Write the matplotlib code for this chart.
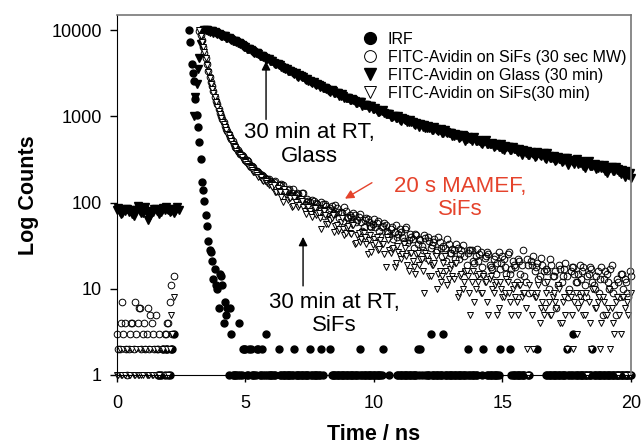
import numpy as np
import matplotlib.pyplot as plt

plt.rcParams['font.family'] = ['Liberation Sans', 'DejaVu Sans']

# photon counts per 0.05 ns channel (one row = 0.5 ns), 0 = empty channel
channel_ns = 0.05

irf = [
    0, 0, 0, 0, 0, 0, 0, 0, 0, 0,
    0, 0, 0, 0, 0, 0, 0, 0, 0, 0,
    0, 0, 0, 0, 0, 0, 0, 0, 0, 0,
    0, 0, 1, 1, 1, 0, 2, 1, 2, 2,
    1, 1, 2, 2, 3, 0, 0, 0, 0, 0,
    0, 0, 0, 0, 0, 0, 10000, 7260, 4030, 3200,
    2550, 1580, 1050, 745, 500, 320, 175, 140, 105, 71,
    54, 36, 28, 27, 21, 13, 17, 11, 10, 6,
    15, 14, 11, 4, 7, 5, 6, 1, 6, 3,
    1, 1, 1, 1, 1, 4, 1, 1, 2, 2,
    2, 1, 1, 2, 2, 1, 1, 1, 1, 2,
    2, 1, 1, 2, 1, 1, 3, 1, 1, 1,
    1, 1, 1, 1, 0, 0, 2, 1, 1, 1,
    1, 1, 1, 1, 1, 1, 1, 1, 2, 1,
    1, 1, 1, 1, 1, 1, 1, 1, 1, 1,
    2, 1, 1, 1, 1, 1, 1, 1, 1, 2,
    1, 0, 0, 0, 0, 0, 2, 1, 1, 1,
    1, 1, 1, 1, 1, 1, 1, 1, 1, 1,
    1, 1, 1, 1, 1, 1, 1, 1, 1, 2,
    1, 1, 1, 1, 1, 1, 1, 1, 1, 1,
    1, 1, 1, 1, 1, 1, 1, 2, 0, 0,
    0, 0, 1, 0, 0, 0, 0, 0, 1, 1,
    1, 1, 1, 1, 1, 1, 1, 1, 1, 1,
    1, 1, 1, 1, 2, 1, 2, 1, 0, 0,
    1, 1, 1, 1, 3, 1, 1, 1, 1, 1,
    1, 1, 1, 1, 3, 1, 1, 1, 1, 1,
    1, 1, 1, 1, 1, 1, 1, 1, 1, 1,
    1, 1, 1, 2, 1, 1, 1, 1, 1, 1,
    1, 0, 0, 0, 1, 2, 0, 0, 1, 1,
    1, 1, 1, 1, 1, 1, 1, 1, 2, 0,
    0, 0, 0, 0, 0, 0, 2, 1, 1, 1,
    1, 1, 1, 1, 1, 1, 1, 1, 0, 0,
    1, 1, 0, 0, 0, 0, 0, 2, 0, 0,
    0, 0, 0, 0, 1, 1, 1, 1, 1, 1,
    1, 1, 1, 1, 1, 1, 1, 1, 1, 1,
    2, 1, 1, 1, 1, 3, 1, 1, 1, 1,
    1, 1, 1, 1, 1, 1, 1, 1, 1, 1,
    2, 1, 1, 1, 1, 1, 1, 1, 1, 1,
    1, 1, 1, 1, 1, 1, 1, 1, 1, 1,
    1, 1, 1, 1, 1, 1, 1, 1, 1, 1,
    1,
]

sifs_mw = [
    3, 2, 2, 4, 7, 3, 4, 2, 1, 2,
    3, 4, 4, 2, 7, 3, 4, 6, 6, 2,
    3, 4, 2, 3, 6, 2, 5, 4, 3, 2,
    5, 2, 2, 3, 1, 2, 2, 3, 3, 4,
    4, 7, 11, 3, 14, 0, 0, 0, 0, 0,
    0, 0, 0, 0, 0, 0, 0, 0, 0, 0,
    0, 0, 0, 0, 9800, 8700, 7600, 6400, 5400, 4700,
    4100, 3400, 2850, 2500, 2250, 1950, 1660, 1500, 1380, 1230,
    1090, 1010, 930, 850, 770, 720, 680, 620, 570, 545,
    520, 475, 440, 430, 410, 385, 365, 352, 345, 328,
    315, 310, 300, 278, 265, 266, 260, 240, 230, 232,
    225, 212, 205, 207, 204, 192, 188, 190, 186, 176,
    172, 167, 175, 179, 152, 138, 158, 158, 165, 159,
    140, 134, 128, 139, 143, 119, 130, 143, 118, 121,
    130, 125, 113, 105, 128, 129, 97, 102, 110, 104,
    101, 87, 108, 105, 90, 99, 96, 86, 80, 102,
    96, 70, 97, 92, 81, 83, 87, 92, 74, 76,
    94, 86, 77, 67, 78, 76, 61, 88, 79, 68,
    67, 71, 68, 59, 76, 71, 59, 62, 68, 74,
    60, 47, 52, 63, 66, 65, 60, 53, 52, 57,
    65, 52, 58, 61, 47, 41, 52, 53, 58, 55,
    46, 44, 41, 49, 52, 38, 46, 55, 40, 43,
    49, 46, 40, 36, 50, 52, 34, 37, 43, 40,
    38, 30, 43, 42, 33, 38, 37, 31, 28, 42,
    39, 23, 40, 36, 30, 32, 35, 38, 27, 28,
    40, 35, 30, 24, 31, 30, 21, 38, 33, 26,
    26, 29, 28, 22, 33, 30, 22, 25, 28, 32,
    24, 16, 19, 26, 28, 28, 28, 21, 20, 24,
    29, 21, 25, 27, 18, 15, 23, 24, 27, 25,
    19, 18, 17, 22, 24, 15, 20, 27, 17, 20,
    24, 22, 18, 15, 25, 27, 15, 17, 21, 19,
    18, 12, 22, 21, 15, 19, 28, 14, 12, 22,
    19, 9, 21, 19, 24, 16, 18, 20, 13, 14,
    23, 19, 16, 12, 17, 16, 10, 22, 19, 14,
    14, 16, 6, 11, 19, 17, 12, 14, 17, 20,
    14, 8, 10, 16, 18, 18, 15, 12, 12, 15,
    19, 13, 16, 18, 11, 8, 14, 15, 18, 17,
    12, 11, 10, 14, 16, 9, 13, 18, 5, 13,
    16, 15, 12, 10, 17, 19, 9, 11, 5, 13,
    12, 8, 15, 15, 10, 13, 12, 9, 8, 16,
    14,
]

glass_30min = [
    82, 86, 78, 73, 75, 81, 80, 84, 85, 77,
    79, 83, 74, 70, 77, 81, 92, 86, 80, 76,
    76, 82, 88, 79, 62, 68, 72, 77, 78, 85,
    84, 79, 80, 74, 77, 83, 86, 81, 90, 84,
    82, 77, 79, 85, 75, 80, 84, 88, 81, 0,
    0, 0, 0, 0, 0, 0, 0, 0, 0, 0,
    1000, 1700, 2400, 3500, 4700, 7000, 9400, 9900, 10100, 10000,
    10050, 9820, 9620, 9780, 9670, 9320, 9410, 9260, 9110, 9105,
    8810, 8660, 8610, 8520, 8450, 8170, 8050, 8120, 7980, 7740,
    7570, 7580, 7570, 7200, 7010, 7170, 6980, 6690, 6480, 6400,
    6360, 6115, 6100, 6055, 5860, 5795, 5600, 5470, 5390, 5380,
    5320, 5005, 5010, 5010, 4920, 4765, 4590, 4665, 4650, 4420,
    4360, 4335, 4210, 4080, 4010, 4005, 3950, 3935, 3730, 3665,
    3630, 3585, 3560, 3380, 3330, 3350, 3280, 3185, 3140, 3155,
    2950, 2890, 3000, 2905, 2830, 2830, 2720, 2660, 2680, 2605,
    2600, 2510, 2440, 2490, 2400, 2285, 2390, 2300, 2210, 2250,
    2140, 2110, 2130, 2075, 2030, 1945, 1930, 2005, 1960, 1885,
    1850, 1855, 1860, 1745, 1715, 1795, 1705, 1655, 1650, 1640,
    1650, 1535, 1530, 1570, 1535, 1520, 1440, 1430, 1450, 1460,
    1450, 1310, 1340, 1365, 1340, 1308, 1265, 1310, 1305, 1220,
    1225, 1238, 1197, 1137, 1110, 1143, 1145, 1170, 1097, 1077,
    1070, 1060, 1065, 988, 985, 1019, 1005, 966, 954, 997,
    918, 884, 952, 927, 914, 918, 863, 858, 901, 864,
    864, 826, 798, 841, 805, 750, 822, 791, 759, 789,
    733, 733, 764, 740, 725, 691, 704, 748, 723, 693,
    682, 698, 711, 647, 637, 702, 660, 633, 635, 635,
    650, 587, 598, 627, 607, 607, 564, 571, 599, 608,
    599, 519, 548, 569, 562, 542, 520, 560, 571, 517,
    523, 538, 520, 485, 472, 504, 518, 532, 481, 476,
    480, 482, 494, 446, 448, 473, 465, 446, 446, 474,
    422, 403, 453, 440, 436, 443, 408, 407, 441, 415,
    417, 397, 384, 419, 399, 359, 408, 392, 375, 398,
    361, 361, 383, 371, 365, 339, 349, 387, 374, 354,
    349, 362, 374, 329, 322, 372, 345, 327, 331, 333,
    346, 303, 312, 334, 322, 323, 293, 300, 322, 331,
    327, 271, 294, 310, 305, 294, 280, 310, 318, 279,
    286, 300, 287, 264, 255, 280, 289, 301, 266, 264,
    269, 272, 283, 247, 249, 270, 266, 251, 251, 273,
    232, 221, 262, 252, 249, 256, 231, 231, 256, 238,
    242, 226, 216, 241, 225, 196, 233, 220, 207, 222,
    195,
]

sifs_30min = [
    1, 1, 2, 1, 1, 2, 1, 2, 2, 1,
    1, 2, 2, 1, 1, 2, 1, 1, 2, 1,
    1, 2, 2, 1, 1, 1, 2, 1, 1, 2,
    1, 2, 1, 1, 2, 2, 2, 1, 1, 2,
    1, 2, 5, 3, 8, 0, 0, 0, 0, 0,
    0, 0, 0, 0, 0, 0, 0, 0, 0, 0,
    0, 0, 0, 0, 10000, 8500, 7300, 6400, 5600, 4700,
    3950, 3300, 2820, 2400, 2080, 1850, 1670, 1460, 1290, 1160,
    1060, 950, 870, 810, 760, 700, 630, 600, 565, 520,
    480, 455, 438, 400, 380, 370, 355, 335, 315, 305,
    298, 280, 268, 262, 255, 240, 228, 225, 222, 210,
    200, 198, 196, 185, 178, 180, 177, 168, 162, 163,
    160, 150, 160, 134, 133, 147, 137, 133, 116, 101,
    142, 134, 116, 108, 114, 114, 90, 91, 112, 101,
    94, 88, 95, 109, 103, 88, 80, 73, 90, 90,
    80, 73, 68, 87, 86, 72, 76, 76, 66, 50,
    81, 79, 71, 57, 57, 65, 63, 66, 71, 46,
    53, 55, 47, 49, 59, 66, 50, 42, 44, 51,
    54, 44, 43, 55, 55, 33, 34, 42, 44, 35,
    38, 45, 44, 40, 33, 25, 37, 42, 27, 32,
    38, 34, 40, 28, 29, 37, 33, 33, 25, 18,
    40, 37, 28, 26, 29, 30, 18, 20, 31, 27,
    24, 22, 25, 33, 30, 24, 19, 16, 26, 26,
    21, 18, 15, 25, 26, 19, 22, 22, 16, 9,
    26, 24, 21, 14, 14, 19, 19, 20, 24, 10,
    15, 16, 12, 14, 20, 24, 16, 11, 13, 17,
    19, 14, 13, 20, 20, 8, 9, 14, 15, 10,
    12, 16, 16, 14, 9, 5, 12, 16, 7, 10,
    14, 12, 15, 9, 9, 14, 12, 12, 7, 5,
    13, 14, 10, 9, 11, 12, 5, 6, 12, 10,
    8, 8, 9, 13, 12, 9, 7, 5, 10, 11,
    8, 7, 5, 11, 11, 8, 9, 9, 6, 2,
    1, 11, 9, 5, 2, 8, 8, 9, 11, 4,
    6, 7, 5, 6, 9, 12, 7, 5, 5, 8,
    9, 7, 6, 11, 10, 4, 4, 7, 8, 5,
    2, 9, 9, 8, 5, 2, 7, 9, 3, 6,
    8, 7, 9, 5, 5, 9, 1, 7, 4, 2,
    10, 10, 6, 6, 7, 8, 2, 4, 8, 7,
    5, 5, 6, 10, 2, 6, 4, 3, 7, 8,
    1, 5, 3, 8, 8, 6, 1, 7, 5, 1,
    9,
]

labels = ["IRF",
          "FITC-Avidin on SiFs (30 sec MW)",
          "FITC-Avidin on Glass (30 min)",
          "FITC-Avidin on SiFs(30 min)"]

red = '#e5432c'


def counts(a):
    a = np.array(a, dtype=float)
    a[a <= 0] = np.nan
    return a


time_ns = np.arange(len(irf)) * channel_ns

fig = plt.figure(figsize=(6.41, 4.46), dpi=100)
ax = fig.add_axes([0.1825, 0.1592, 0.8019, 0.8072])

ax.plot(time_ns, counts(irf), 'o', ms=5, color='k', clip_on=False, label=labels[0])
ax.plot(time_ns, counts(sifs_mw), 'o', ms=4.8, mfc='none', mec='k', mew=0.7,
        clip_on=False, label=labels[1])
ax.plot(time_ns, counts(glass_30min), 'v', ms=5.2, color='k', clip_on=False, label=labels[2])
ax.plot(time_ns, counts(sifs_30min), 'v', ms=4.8, mfc='white', mec='k', mew=0.7,
        clip_on=False, label=labels[3])

ax.set_yscale('log')
ax.set_xlim(0, 20)
ax.set_ylim(1, 15000)
ax.set_yticks([1, 10, 100, 1000, 10000])
ax.set_yticklabels(['1', '10', '100', '1000', '10000'])
ax.yaxis.set_minor_locator(plt.NullLocator())
ax.set_xticks([0, 5, 10, 15, 20])
ax.tick_params(direction='out', length=5, width=1, labelsize=13)
ax.tick_params(axis='y', pad=6)
ax.tick_params(axis='x', pad=9.5)

for side in ['top', 'right']:
    ax.spines[side].set_color('#777777')
    ax.spines[side].set_linewidth(1.2)

ax.set_xlabel('Time / ns', fontsize=15.5, fontweight='bold', labelpad=8.5)
ax.set_ylabel('Log Counts', fontsize=15.5, fontweight='bold', labelpad=9)

arrow = dict(arrowstyle='-|>', color='k', lw=1, mutation_scale=13, shrinkA=0, shrinkB=0)
ax.annotate('', xy=(5.8, 4370), xytext=(5.8, 923), arrowprops=arrow)
ax.text(7.47, 472, '30 min at RT,\nGlass', ha='center', va='center',
        fontsize=16, linespacing=1.15)

ax.annotate('', xy=(7.24, 40), xytext=(7.24, 10.8), arrowprops=arrow)
ax.text(8.44, 5.12, '30 min at RT,\nSiFs', ha='center', va='center',
        fontsize=16, linespacing=1.15)

red_arrow = dict(arrow, color=red)
ax.annotate('', xy=(8.87, 111), xytext=(9.92, 170), arrowprops=red_arrow)
ax.text(13.35, 113, '20 s MAMEF,\nSiFs', ha='center', va='center', color=red,
        fontsize=16, linespacing=1.15)

leg = ax.legend(loc='upper left', bbox_to_anchor=(0.477, 0.953), frameon=False,
                fontsize=11.5, handlelength=1.0, handletextpad=0.6,
                labelspacing=0.18, borderpad=0, borderaxespad=0, numpoints=1)
for h in leg.legend_handles:
    h.set_markersize(8.5)

plt.savefig('out.png', dpi=100)
